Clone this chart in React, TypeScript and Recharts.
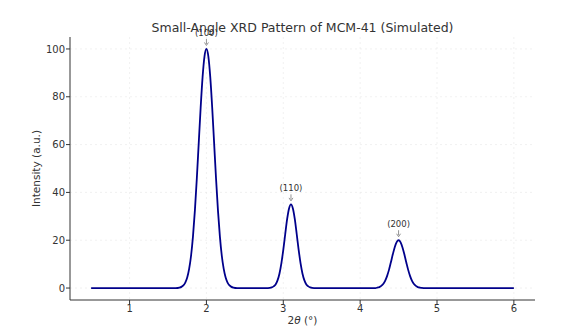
import React from 'react';
import { LineChart, Line, XAxis, YAxis, CartesianGrid, ReferenceDot } from 'recharts';

const twoTheta = [
  0.5, 1.0, 1.5, 1.6, 1.65, 1.675, 1.7, 1.725, 1.75, 1.775, 1.8, 1.825, 1.85, 1.875, 1.9, 1.925, 1.95, 1.975,
  2.0, 2.025, 2.05, 2.075, 2.1, 2.125, 2.15, 2.175, 2.2, 2.225, 2.25, 2.275, 2.3, 2.325, 2.35, 2.4,
  2.8, 2.85, 2.875, 2.9, 2.925, 2.95, 2.975, 3.0, 3.025, 3.05, 3.075, 3.1, 3.125, 3.15, 3.175, 3.2, 3.225,
  3.25, 3.275, 3.3, 3.325, 3.35, 3.4,
  4.2, 4.225, 4.25, 4.275, 4.3, 4.325, 4.35, 4.375, 4.4, 4.425, 4.45, 4.475, 4.5, 4.525, 4.55, 4.575,
  4.6, 4.625, 4.65, 4.675, 4.7, 4.725, 4.75, 4.775, 4.8, 4.85, 5.5, 6.0,
];
const intensity = [
  0, 0, 0, 0, 0.2, 0.5, 1.1, 2.3, 4.4, 8.0, 13.5, 21.6, 32.5, 45.8, 60.7, 75.5, 88.2, 96.9,
  100, 96.9, 88.2, 75.5, 60.7, 45.8, 32.5, 21.6, 13.5, 8.0, 4.4, 2.3, 1.1, 0.5, 0.2, 0,
  0, 0.3, 0.7, 1.5, 3.2, 6.0, 10.3, 16.0, 22.5, 28.8, 33.3, 35, 33.3, 28.8, 22.5, 16.0, 10.3,
  6.0, 3.2, 1.5, 0.7, 0.3, 0,
  0, 0.2, 0.4, 0.9, 1.7, 3.0, 5.0, 7.6, 10.8, 14.1, 17.1, 19.2, 20, 19.2, 17.1, 14.1,
  10.8, 7.6, 5.0, 3.0, 1.7, 0.9, 0.4, 0.2, 0.1, 0, 0, 0,
];

const peakPositions = [2.0, 3.1, 4.5];
const peakHeights = [100, 35, 20];
const peakLabels = ['(100)', '(110)', '(200)'];
const xTicks = [1, 2, 3, 4, 5, 6];
const yTicks = [0, 20, 40, 60, 80, 100];

const data = twoTheta.map((x, i) => ({ x, y: intensity[i] }));

const FONT = 'DejaVu Sans, sans-serif';

const makeAnnotation = (label: string) => (props: any) => {
  const { cx, cy } = props;
  return (
    <g>
      <text x={cx} y={cy - 13} textAnchor="middle" fontSize={8.5} fill="#333" fontFamily={FONT}>
        {label}
      </text>
      <line x1={cx} y1={cy - 10} x2={cx} y2={cy - 5} stroke="#777" strokeWidth={0.8} />
      <path d={`M${cx - 2},${cy - 6.5} L${cx},${cy - 3.5} L${cx + 2},${cy - 6.5}`} fill="none" stroke="#777" strokeWidth={0.8} />
    </g>
  );
};

const XLabel = (props: any) => {
  const { viewBox } = props;
  const cx = viewBox.x + viewBox.width / 2;
  return (
    <text x={cx} y={324} textAnchor="middle" fontSize={10.5} fill="#333" fontFamily={FONT}>
      2<tspan fontStyle="italic">θ</tspan> (°)
    </text>
  );
};

const YLabel = (props: any) => {
  const { viewBox } = props;
  const cy = viewBox.y + viewBox.height / 2;
  return (
    <text x={40} y={cy} textAnchor="middle" fontSize={10.5} fill="#333" fontFamily={FONT}
      transform={`rotate(-90 40 ${cy})`}>
      Intensity (a.u.)
    </text>
  );
};

export default function App() {
  return (
    <div style={{ position: 'absolute', left: 0, top: 0, width: 580, height: 336, background: '#fff' }}>
      <div style={{
        position: 'absolute', left: 70, width: 465, top: 20, textAlign: 'center',
        fontFamily: FONT, fontSize: 12.5, color: '#333', lineHeight: '16px',
      }}>
        Small-Angle XRD Pattern of MCM-41 (Simulated)
      </div>
      <LineChart width={580} height={336} data={data}
        margin={{ top: 37, right: 45, bottom: 6, left: 10 }}>
        <CartesianGrid stroke="#e8e8e8" strokeDasharray="2 3" strokeWidth={0.6}
          horizontalValues={yTicks} verticalValues={xTicks} />
        <XAxis dataKey="x" type="number" domain={[0.225, 6.275]} ticks={xTicks}
          allowDataOverflow height={30} axisLine={{ stroke: '#333', strokeWidth: 1 }}
          tickLine={{ stroke: '#333' }} tickSize={4} tickMargin={1}
          tick={{ fill: '#333', fontSize: 10, fontFamily: FONT }}
          label={<XLabel />} />
        <YAxis type="number" domain={[-5, 105]} ticks={yTicks} allowDataOverflow width={60}
          axisLine={{ stroke: '#333', strokeWidth: 1 }} tickLine={{ stroke: '#333' }} tickSize={4}
          tickMargin={1}
          tick={{ fill: '#333', fontSize: 10, fontFamily: FONT }}
          label={<YLabel />} />
        <Line type="monotone" dataKey="y" stroke="#00008b" strokeWidth={1.8} dot={false}
          isAnimationActive={false} />
        {peakPositions.map((p, i) => (
          <ReferenceDot key={i} x={p} y={peakHeights[i]} r={0} ifOverflow="visible"
            shape={makeAnnotation(peakLabels[i])} />
        ))}
      </LineChart>
    </div>
  );
}
